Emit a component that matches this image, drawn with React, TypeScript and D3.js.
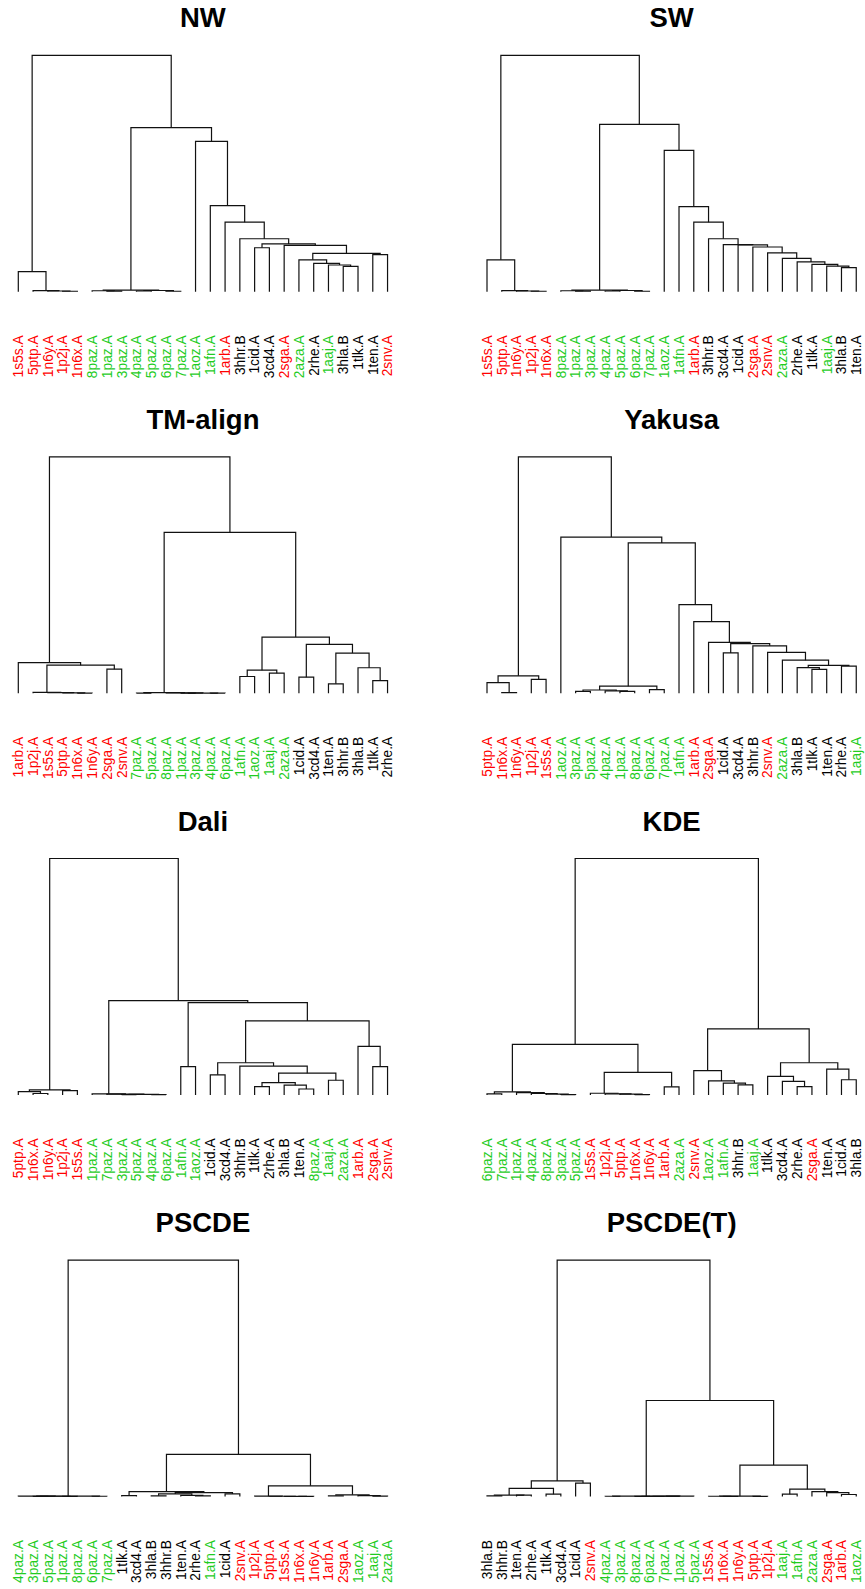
import React from "react";
import * as d3 from "d3";

// ---- families (label colours) ----
const redIds = ["1s5s", "5ptp", "1n6y", "1p2j", "1n6x", "1arb", "2sga", "2snv"];
const greenIds = ["1paz", "3paz", "4paz", "5paz", "6paz", "7paz", "8paz", "1aoz", "1afn", "2aza", "1aaj"];

// ---- panel titles ----
const titles = ["NW", "SW", "TM-align", "Yakusa", "Dali", "KDE", "PSCDE", "PSCDE(T)"];

// ---- leaf orders ----
const nwLabels = ["1s5s.A","5ptp.A","1n6y.A","1p2j.A","1n6x.A","8paz.A","1paz.A","3paz.A","4paz.A","5paz.A","6paz.A","7paz.A","1aoz.A","1afn.A","1arb.A","3hhr.B","1cid.A","3cd4.A","2sga.A","2aza.A","2rhe.A","1aaj.A","3hla.B","1tlk.A","1ten.A","2snv.A"];
const swLabels = ["1s5s.A","5ptp.A","1n6y.A","1p2j.A","1n6x.A","8paz.A","1paz.A","3paz.A","4paz.A","5paz.A","6paz.A","7paz.A","1aoz.A","1afn.A","1arb.A","3hhr.B","3cd4.A","1cid.A","2sga.A","2snv.A","2aza.A","2rhe.A","1tlk.A","1aaj.A","3hla.B","1ten.A"];
const tmLabels = ["1arb.A","1p2j.A","1s5s.A","5ptp.A","1n6x.A","1n6y.A","2sga.A","2snv.A","7paz.A","5paz.A","8paz.A","1paz.A","3paz.A","4paz.A","6paz.A","1afn.A","1aoz.A","1aaj.A","2aza.A","1cid.A","3cd4.A","1ten.A","3hhr.B","3hla.B","1tlk.A","2rhe.A"];
const yakLabels = ["5ptp.A","1n6x.A","1n6y.A","1p2j.A","1s5s.A","1aoz.A","3paz.A","5paz.A","4paz.A","1paz.A","8paz.A","6paz.A","7paz.A","1afn.A","1arb.A","2sga.A","1cid.A","3cd4.A","3hhr.B","2snv.A","2aza.A","3hla.B","1tlk.A","1ten.A","2rhe.A","1aaj.A"];
const daliLabels = ["5ptp.A","1n6x.A","1n6y.A","1p2j.A","1s5s.A","1paz.A","7paz.A","3paz.A","5paz.A","4paz.A","6paz.A","1afn.A","1aoz.A","1cid.A","3cd4.A","3hhr.B","1tlk.A","2rhe.A","3hla.B","1ten.A","8paz.A","1aaj.A","2aza.A","1arb.A","2sga.A","2snv.A"];
const kdeLabels = ["6paz.A","7paz.A","1paz.A","4paz.A","8paz.A","3paz.A","5paz.A","1s5s.A","1p2j.A","5ptp.A","1n6x.A","1n6y.A","1arb.A","2aza.A","2snv.A","1aoz.A","1afn.A","3hhr.B","1aaj.A","1tlk.A","3cd4.A","2rhe.A","2sga.A","1ten.A","1cid.A","3hla.B"];
const pscdeLabels = ["4paz.A","3paz.A","5paz.A","1paz.A","8paz.A","6paz.A","7paz.A","1tlk.A","3cd4.A","3hla.B","3hhr.B","1ten.A","2rhe.A","1afn.A","1cid.A","2snv.A","1p2j.A","5ptp.A","1s5s.A","1n6x.A","1n6y.A","1arb.A","2sga.A","1aoz.A","1aaj.A","2aza.A"];
const pscdeTLabels = ["3hla.B","3hhr.B","1ten.A","2rhe.A","1tlk.A","3cd4.A","1cid.A","2snv.A","4paz.A","3paz.A","8paz.A","6paz.A","7paz.A","1paz.A","5paz.A","1s5s.A","1n6x.A","1n6y.A","5ptp.A","1p2j.A","1aaj.A","1afn.A","2aza.A","2sga.A","1arb.A","1aoz.A"];

// ---- trees: [height (root = 100), left, right]; a number is a leaf index ----
const nwTree = [100,
  [8.5, 0, [0.45, 1, [0.3, 2, [0.2, 3, 4]]]],
  [69.4,
    [0.7, [0.4, 5, [0.25, 6, 7]], [0.5, [0.3, 8, 9], [0.2, 10, 11]]],
    [63.6, 12,
      [36.4, 13,
        [29.4, 14,
          [22.4, 15,
            [20.2, [18.6, 16, 17],
              [19.6, 18,
                [16.2,
                  [13.5, 19, [12.0, 20, [11.3, 21, [10.7, 22, 23]]]],
                  [15.7, 24, 25]]]]]]]]]];

const swTree = [100,
  [13.5, 0, [0.45, 1, [0.3, 2, [0.2, 3, 4]]]],
  [70.8,
    [0.7, [0.4, 5, [0.25, 6, 7]], [0.5, [0.3, 8, 9], [0.2, 10, 11]]],
    [59.8, 12,
      [36.0, 13,
        [29.4, 14,
          [22.4, 15,
            [19.9, 16,
              [19.8, 17,
                [18.9, 18,
                  [16.4, 19,
                    [14.1, 20,
                      [12.6, 21,
                        [11.6, 22,
                          [10.8, 23, [10.2, 24, 25]]]]]]]]]]]]]]];

const tmTree = [100,
  [13.0, 0,
    [11.9,
      [0.35, 1, [0.25, 2, [0.15, 3, [0.1, 4, 5]]]],
      [10.2, 6, 7]]],
  [68.1,
    [0.25, [0.1, 8, 9], [0.15, 10, [0.1, [0.05, 11, 12], [0.05, 13, 14]]]],
    [23.8,
      [9.8, [7.1, 15, 16], [8.5, 17, 18]],
      [20.7,
        [6.8, 19, 20],
        [17.0,
          [4.0, 21, 22],
          [10.8, 23, [5.4, 24, 25]]]]]]];

const yakTree = [100,
  [7.4, [4.5, 0, [0.3, 1, 2]], [5.9, 3, 4]],
  [66.1, 5,
    [63.6,
      [3.0, [1.4, [0.85, 6, 7], [1.0, 8, [0.85, 9, 10]]], [1.56, 11, 12]],
      [37.5, 13,
        [30.3, 14,
          [21.5, 15,
            [21.0, [17.1, 16, 17],
              [20.1, 18,
                [17.3, 19,
                  [14.0, 20,
                    [11.8,
                      [10.9, 21, [10.1, 22, 23]],
                      [11.5, 24, 25]]]]]]]]]]]];

const daliTree = [100,
  [2.1, [1.4, 0, [0.6, 1, 2]], [1.8, 3, 4]],
  [39.9,
    [0.4, 5, [0.3, 6, [0.2, [0.1, 7, 8], [0.1, 9, 10]]]],
    [39.0,
      [12.0, 11, 12],
      [31.3,
        [13.6,
          [8.5, 13, 14],
          [12.2, 15,
            [9.2,
              [5.2, [3.5, 16, 17], [4.1, 18, [2.5, 19, 20]]],
              [6.2, 21, 22]]]],
        [20.5, 23, [12.0, 24, 25]]]]]];

const kdeTree = [100,
  [21.4,
    [1.3, [0.4, 0, 1], [1.0, 2, [0.6, 3, [0.3, 4, [0.15, 5, 6]]]]],
    [9.5,
      [0.7, 7, [0.45, 8, [0.3, 9, [0.15, 10, 11]]]],
      [3.4, 12, 13]]],
  [27.9,
    [10.3, 14, [5.9, 15, [5.0, 16, [4.2, 17, 18]]]],
    [13.6,
      [7.8, 19, [5.7, 20, [3.5, 21, 22]]],
      [10.9, 23, [6.4, 24, 25]]]]];

const pscdeTree = [100,
  [0.2, [0.15, 0, [0.1, [0.05, 1, 2], [0.05, 3, 4]]], [0.1, 5, 6]],
  [17.8,
    [2.1,
      [0.4, 7, 8],
      [1.6, [1.1, [0.3, 9, 10], [0.5, 11, [0.3, 12, 13]]], [1.1, 14, 15]]],
    [4.5,
      [0.15, 16, [0.1, 17, [0.08, 18, [0.05, 19, 20]]]],
      [0.7, [0.3, 21, 22], [0.4, 23, [0.15, 24, 25]]]]]];

const pscdeTTree = [100,
  [6.6,
    [3.4, [0.6, [0.3, 0, 1], [0.55, 2, 3]], [1.0, 4, 5]],
    [5.7, 6, 7]],
  [40.6,
    [0.15, [0.1, 8, 9], [0.12, [0.1, [0.08, [0.05, 10, 11], 12], 13], 14]],
    [13.3,
      [0.15, [0.1, 15, [0.05, 16, 17]], [0.08, 18, 19]],
      [3.1,
        [1.0, 20, 21],
        [2.1, 22, [1.6, 23, [0.85, 24, 25]]]]]]];

const panelLabels = [nwLabels, swLabels, tmLabels, yakLabels, daliLabels, kdeLabels, pscdeLabels, pscdeTLabels];
const panelTrees = [nwTree, swTree, tmTree, yakTree, daliTree, kdeTree, pscdeTree, pscdeTTree];

// ---- layout ----
const W = 865;
const H = 1589;
const ROW_TOP0 = 55.3;
const ROW_STEP = 401.6;
const TREE_H = 236.4;
const LEAF_STEP = 14.77;
const COL_X0 = [18.3, 487];
const LABEL_GAP = 43.5;
const RED = "#FF0000";
const GREEN = "#1FCC1F";

function colorOf(label: string) {
  const id = label.split(".")[0];
  if (redIds.includes(id)) return RED;
  if (greenIds.includes(id)) return GREEN;
  return "#000000";
}

type Node = number | [number, Node, Node];

function Dendrogram({ idx }: { idx: number }) {
  const col = idx % 2;
  const row = Math.floor(idx / 2);
  const labels = panelLabels[idx];
  const tree = panelTrees[idx] as any as Node;
  const top = ROW_TOP0 + row * ROW_STEP;
  const base = top + TREE_H;
  const x0 = COL_X0[col];
  const n = labels.length;
  const xs = d3.scaleLinear().domain([0, n - 1]).range([x0, x0 + (n - 1) * LEAF_STEP]);
  const ys = d3.scaleLinear().domain([0, 100]).range([base, top]);

  const segs: string[] = [];
  const walk = (node: Node): { x: number; y: number } => {
    if (typeof node === "number") return { x: xs(node), y: base };
    const [h, l, r] = node;
    const a = walk(l);
    const b = walk(r);
    const y = ys(h);
    const p = d3.path();
    p.moveTo(a.x, a.y);
    p.lineTo(a.x, y);
    p.lineTo(b.x, y);
    p.lineTo(b.x, b.y);
    segs.push(p.toString());
    return { x: (a.x + b.x) / 2, y };
  };
  walk(tree);

  const cx = x0 + ((n - 1) * LEAF_STEP) / 2;
  return (
    <g>
      <text
        x={cx}
        y={top - 28}
        textAnchor="middle"
        fontFamily="'Liberation Sans', Arial, Helvetica, sans-serif"
        fontWeight="bold"
        fontSize={27.5}
        fill="#000"
      >
        {titles[idx]}
      </text>
      {segs.map((d, i) => (
        <path key={i} d={d} fill="none" stroke="#111" strokeWidth={1.2} />
      ))}
      {labels.map((lab, i) => (
        <text
          key={lab + i}
          transform={`translate(${xs(i)},${base + LABEL_GAP}) rotate(-90)`}
          dy="0.35em"
          textAnchor="end"
          fontFamily="'Liberation Sans', Arial, Helvetica, sans-serif"
          fontSize={13.8}
          fill={colorOf(lab)}
        >
          {lab}
        </text>
      ))}
    </g>
  );
}

export default function App() {
  return (
    <svg
      width={W}
      height={H}
      viewBox={`0 0 ${W} ${H}`}
      style={{ position: "absolute", left: 0, top: 0, background: "#fff" }}
    >
      <rect x={0} y={0} width={W} height={H} fill="#fff" />
      {titles.map((_, i) => (
        <Dendrogram key={i} idx={i} />
      ))}
    </svg>
  );
}
